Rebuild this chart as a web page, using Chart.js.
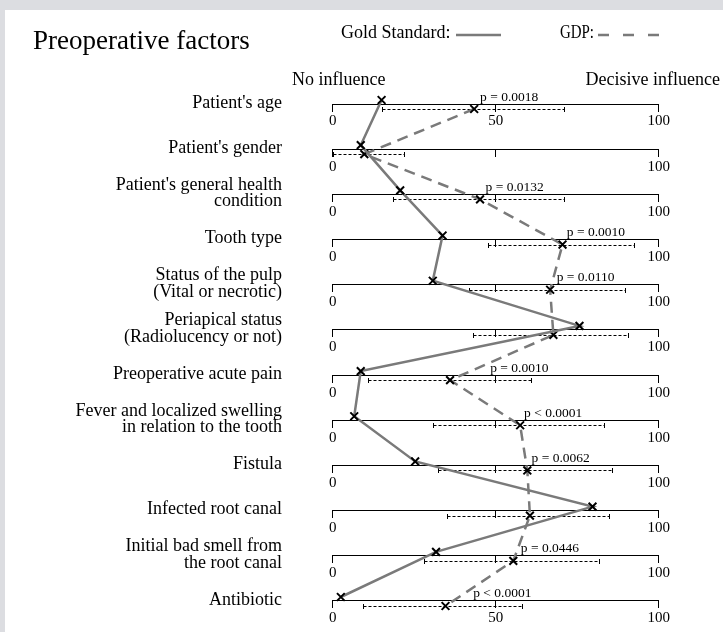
<!DOCTYPE html>
<html>
<head>
<meta charset="utf-8">
<script src="https://cdn.jsdelivr.net/npm/chart.js@4.4.1/dist/chart.umd.min.js"></script>
<style>
  html, body { margin: 0; padding: 0; width: 723px; height: 632px; overflow: hidden; background: #dcdde1; }
  #panel { position: absolute; left: 5px; top: 10px; right: 0; bottom: 0; background: #ffffff; }
  #chart { position: absolute; left: 0; top: 0; }
</style>
</head>
<body>
<div id="panel"></div>
<canvas id="chart" width="723" height="632"></canvas>
<script>
// Preoperative factors: influence score (0 = no influence, 100 = decisive influence)
const factors = [
  "Patient's age",
  "Patient's gender",
  ["Patient's general health", "condition"],
  "Tooth type",
  ["Status of the pulp", "(Vital or necrotic)"],
  ["Periapical status", "(Radiolucency or not)"],
  "Preoperative acute pain",
  ["Fever and localized swelling", "in relation to the tooth"],
  "Fistula",
  "Infected root canal",
  ["Initial bad smell from", "the root canal"],
  "Antibiotic"
];

// Gold standard score per factor
const goldStandard = [15.0, 8.6, 20.7, 33.7, 30.7, 75.7, 8.6, 6.6, 25.3, 79.7, 31.7, 2.5];

// GDP median score and its interquartile range per factor
const gdpMedian = [43.4, 9.7, 45.2, 70.5, 66.7, 67.7, 36.0, 57.5, 59.7, 60.5, 55.4, 34.6];
const gdpLow    = [15.0, 0.0, 18.6, 47.5, 41.8, 43.1, 10.9, 30.9, 32.2, 35.0, 28.0, 9.4];
const gdpHigh   = [71.1, 22.0, 71.1, 92.5, 89.7, 90.7, 60.7, 83.2, 85.8, 84.9, 81.8, 58.0];

// Significance of the difference (null = not significant)
const pValues = ["p = 0.0018", null, "p = 0.0132", "p = 0.0010", "p = 0.0110", null,
                 "p = 0.0010", "p < 0.0001", "p = 0.0062", null, "p = 0.0446", "p < 0.0001"];

// Scale tick values and the rows whose axis shows the middle label
const scaleTicks = [0, 50, 100];
const midLabelRows = [0, factors.length - 1];

// ---- layout ----
const SERIF = "'Liberation Serif', 'Times New Roman', 'DejaVu Serif', serif";
const LINE_GREY = '#7a7a7a';
const AXIS_LEFT = 332.7;           // pixel where every row axis starts
const ROW_STEP = 45.18;            // pixel distance between row axes
const GOLD_RISE = 4 / ROW_STEP;    // gold marks sit just above the axis
const GDP_DROP = 5 / ROW_STEP;     // GDP marks sit on the range bar below it
const pLabelLeft = [45.2, null, 46.9, 71.8, 68.7, null, 48.3, 58.7, 61.0, null, 57.7, 43.1];

Chart.defaults.font.family = SERIF;
Chart.defaults.color = '#000';

const ROWS = factors.length;

// one 0-100 axis drawn on each row
const scales = {
  y: {
    type: 'linear',
    position: 'left',
    reverse: true,
    min: -0.5,
    max: ROWS - 0.5,
    afterBuildTicks: (s) => { s.ticks = factors.map((_, i) => ({ value: i })); },
    afterFit: (s) => { s.width = AXIS_LEFT; s.paddingTop = 0; s.paddingBottom = 0; },
    ticks: {
      autoSkip: false,
      padding: AXIS_LEFT - 282,
      labelOffset: -1,
      color: '#000',
      font: { family: SERIF, size: 18, lineHeight: 0.93 },
      callback: (v) => factors[v]
    },
    grid: { display: false, drawTicks: false },
    border: { display: false }
  },
  yGold: { type: 'linear', display: false, reverse: true, min: -0.5 + GOLD_RISE, max: ROWS - 0.5 + GOLD_RISE },
  yGdp:  { type: 'linear', display: false, reverse: true, min: -0.5 - GDP_DROP, max: ROWS - 0.5 - GDP_DROP }
};

factors.forEach((_, row) => {
  const id = row === 0 ? 'x' : 'x' + row;
  scales[id] = {
    type: 'linear',
    axis: 'x',
    position: { y: row },
    min: 0,
    max: 100,
    afterBuildTicks: (s) => { s.ticks = scaleTicks.map(v => ({ value: v })); },
    afterFit: (s) => { s.height = 0; },
    ticks: {
      autoSkip: false,
      maxRotation: 0,
      padding: 1.5,
      color: '#000',
      font: { family: SERIF, size: 15 },
      callback: (v) => (v === 50 && !midLabelRows.includes(row)) ? '' : String(v)
    },
    grid: { drawOnChartArea: false, color: '#000', lineWidth: 1, tickLength: 7 },
    border: { color: '#000', width: 1 }
  };
});

// dashed interquartile bars with end caps under the GDP marks
const rangeBars = {
  id: 'rangeBars',
  beforeDatasetsDraw(chart) {
    const { ctx, scales: { x, yGdp } } = chart;
    ctx.save();
    ctx.strokeStyle = '#000';
    ctx.lineWidth = 1;
    gdpLow.forEach((lo, i) => {
      const y = Math.round(yGdp.getPixelForValue(i)) + 0.5;
      const x1 = Math.round(x.getPixelForValue(lo)) + 0.5;
      const x2 = Math.round(x.getPixelForValue(gdpHigh[i])) + 0.5;
      ctx.setLineDash([3, 2]);
      ctx.beginPath(); ctx.moveTo(x1, y); ctx.lineTo(x2, y); ctx.stroke();
      ctx.setLineDash([]);
      ctx.beginPath();
      ctx.moveTo(x1, y - 2.5); ctx.lineTo(x1, y + 2.5);
      ctx.moveTo(x2, y - 2.5); ctx.lineTo(x2, y + 2.5);
      ctx.stroke();
    });
    ctx.restore();
  }
};

// title, legend, scale captions and p-values
const annotations = {
  id: 'annotations',
  afterDraw(chart) {
    const { ctx, scales: { x, y } } = chart;
    ctx.save();
    ctx.fillStyle = '#000';
    ctx.textBaseline = 'alphabetic';

    ctx.font = '27px ' + SERIF;
    ctx.textAlign = 'left';
    ctx.fillText('Preoperative factors', 33, 49);

    ctx.font = '18px ' + SERIF;
    ctx.fillText('Gold Standard:', 341, 38);
    ctx.fillText('GDP:', 560, 38, 34);
    ctx.strokeStyle = LINE_GREY;
    ctx.lineWidth = 2.5;
    ctx.beginPath(); ctx.moveTo(456, 35); ctx.lineTo(501, 35); ctx.stroke();
    ctx.setLineDash([11, 14]);
    ctx.beginPath(); ctx.moveTo(598, 35); ctx.lineTo(659, 35); ctx.stroke();
    ctx.setLineDash([]);

    ctx.fillText('No influence', 292, 84.5);
    ctx.textAlign = 'right';
    ctx.fillText('Decisive influence', 720, 84.5);

    ctx.textAlign = 'left';
    ctx.font = '13.5px ' + SERIF;
    pValues.forEach((p, i) => {
      if (!p) return;
      ctx.fillText(p, x.getPixelForValue(pLabelLeft[i]), y.getPixelForValue(i) - 3.5);
    });
    ctx.restore();
  }
};

const markStyle = {
  showLine: true,
  borderColor: LINE_GREY,
  borderWidth: 2.5,
  tension: 0,
  fill: false,
  pointStyle: 'crossRot',
  pointRadius: 5.5,
  pointBorderColor: '#000',
  pointBackgroundColor: '#000',
  pointBorderWidth: 2
};

new Chart(document.getElementById('chart'), {
  type: 'scatter',
  data: {
    datasets: [
      Object.assign({
        label: 'Gold Standard',
        xAxisID: 'x',
        yAxisID: 'yGold',
        data: goldStandard.map((v, i) => ({ x: v, y: i }))
      }, markStyle),
      Object.assign({
        label: 'GDP',
        xAxisID: 'x',
        yAxisID: 'yGdp',
        borderDash: [11, 7],
        data: gdpMedian.map((v, i) => ({ x: v, y: i }))
      }, markStyle)
    ]
  },
  options: {
    responsive: false,
    animation: false,
    devicePixelRatio: 1,
    layout: { padding: { left: 0, right: 723 - 658.7, top: 104 - ROW_STEP / 2, bottom: 632 - (601 + ROW_STEP / 2) } },
    scales: scales,
    plugins: {
      legend: { display: false },
      title: { display: false },
      tooltip: { enabled: false }
    }
  },
  plugins: [rangeBars, annotations]
});
</script>
</body>
</html>
